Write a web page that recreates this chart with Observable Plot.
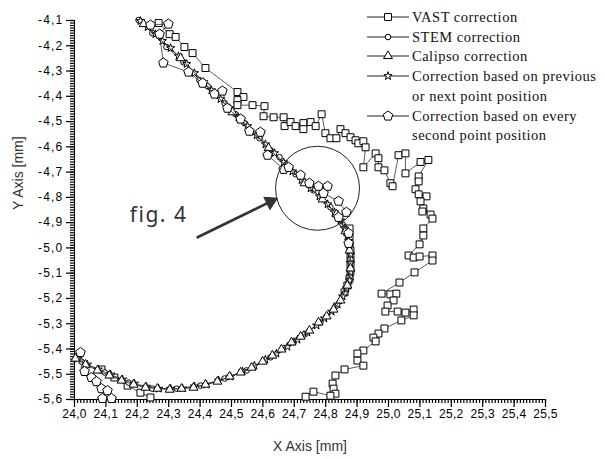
<!DOCTYPE html>
<html>
<head>
<meta charset="utf-8">
<script src="https://cdn.jsdelivr.net/npm/d3@7"></script>
<script src="https://cdn.jsdelivr.net/npm/@observablehq/plot@0.6"></script>
<style>
  body { margin: 0; background: white; }
  #wrap { position: relative; width: 605px; height: 459px; }
  #legend { position: absolute; left: 366px; top: 0; font-family: "Liberation Serif", "Times New Roman", serif; font-size: 14.5px; letter-spacing: 0.5px; color: #111; }
  #legend .row { position: absolute; left: 0; height: 20px; line-height: 20px; white-space: nowrap; }
  #legend svg { position: absolute; left: 0; top: 0; }
  #legend span { position: absolute; left: 46px; top: 0; }
</style>
</head>
<body>
<div id="wrap"><div id="legend"></div></div>
<script>
// ---------- data (mm) ----------
const xTicks = [24.0, 24.1, 24.2, 24.3, 24.4, 24.5, 24.6, 24.7, 24.8, 24.9, 25.0, 25.1, 25.2, 25.3, 25.4, 25.5];
const yTicks = [-5.6, -5.5, -5.4, -5.3, -5.2, -5.1, -5.0, -4.9, -4.8, -4.7, -4.6, -4.5, -4.4, -4.3, -4.2, -4.1];

// VAST correction (squares)
const vastMain = [
  [24.268,-4.110],[24.303,-4.154],[24.322,-4.165],[24.350,-4.205],[24.376,-4.229],[24.417,-4.288],
  [24.519,-4.383],[24.538,-4.403],[24.519,-4.415],[24.519,-4.435],[24.567,-4.435],[24.605,-4.439],
  [24.602,-4.479],[24.634,-4.483],[24.666,-4.483],[24.669,-4.518],[24.688,-4.502],[24.704,-4.518],
  [24.729,-4.506],[24.729,-4.530],[24.752,-4.502],[24.768,-4.518],[24.787,-4.471],[24.799,-4.546],
  [24.815,-4.566],[24.834,-4.566],[24.847,-4.530],[24.863,-4.546],[24.879,-4.562],[24.895,-4.574],
  [24.904,-4.586],[24.920,-4.578],[24.927,-4.602],[24.920,-4.681],[24.959,-4.626],[24.968,-4.645],
  [24.968,-4.681],[24.987,-4.693],[25.006,-4.744],[25.013,-4.756],[25.032,-4.633],[25.054,-4.626],
  [25.054,-4.705],[25.102,-4.660],[25.127,-4.652],[25.096,-4.717],[25.096,-4.737],[25.086,-4.768],
  [25.096,-4.788],[25.121,-4.796],[25.102,-4.816],[25.111,-4.844],[25.108,-4.856],[25.134,-4.868],
  [25.140,-4.884],[25.111,-4.923],[25.111,-4.951],[25.099,-4.986],[25.064,-5.030],[25.080,-5.038],
  [25.099,-5.034],[25.140,-5.030],[25.140,-5.050],[25.083,-5.097],[25.035,-5.137],[24.978,-5.181],
  [25.006,-5.184],[25.025,-5.181],[25.016,-5.208],[24.997,-5.228],[24.990,-5.252],[25.029,-5.252],
  [25.054,-5.256],[25.080,-5.244],[25.080,-5.267],[25.041,-5.287],[24.987,-5.319],[24.968,-5.339],
  [24.952,-5.355],[24.959,-5.370],[24.920,-5.406],[24.901,-5.418],[24.901,-5.446],[24.920,-5.466],
  [24.860,-5.481],[24.831,-5.505],[24.822,-5.537],[24.825,-5.557],[24.831,-5.577],[24.815,-5.585],
  [24.761,-5.569],[24.736,-5.589]
];
const vastInner = [
  [24.876,-4.923],[24.876,-4.954],[24.876,-4.982],[24.879,-5.010],[24.879,-5.038],[24.879,-5.065],
  [24.879,-5.093],[24.876,-5.121],[24.869,-5.149],[24.860,-5.176]
];
const vastLowerLeft = [
  [24.086,-5.481],[24.127,-5.513],[24.169,-5.545],[24.210,-5.573],[24.242,-5.592]
];

// STEM correction (circles)
const stem = [
  [24.204,-4.098],[24.248,-4.150],[24.293,-4.205],[24.347,-4.265],[24.398,-4.336],[24.424,-4.360],
  [24.478,-4.427],[24.513,-4.471],[24.541,-4.506],[24.589,-4.566],[24.624,-4.613],[24.653,-4.641],
  [24.704,-4.708],[24.761,-4.772],[24.815,-4.839],[24.854,-4.907],[24.873,-4.978],[24.879,-5.045],
  [24.876,-5.113],[24.860,-5.180],[24.831,-5.232],[24.783,-5.295],[24.733,-5.342],[24.698,-5.374],
  [24.624,-5.433],[24.548,-5.485],[24.478,-5.517],[24.401,-5.545],[24.325,-5.557],[24.248,-5.557],
  [24.172,-5.533],[24.096,-5.493],[24.022,-5.450]
];

// Calipso correction (triangles)
const calipso = [
  [24.220,-4.114],[24.338,-4.249],[24.503,-4.463],[24.618,-4.605],[24.675,-4.677],[24.733,-4.744],
  [24.790,-4.808],[24.834,-4.867],[24.863,-4.934],[24.876,-5.010],[24.879,-5.081],[24.869,-5.149],
  [24.847,-5.208],[24.825,-5.244],[24.803,-5.271],[24.777,-5.295],[24.748,-5.327],[24.720,-5.351],
  [24.691,-5.374],[24.659,-5.402],[24.630,-5.426],[24.599,-5.450],[24.564,-5.474],[24.529,-5.493],
  [24.494,-5.509],[24.455,-5.529],[24.417,-5.541],[24.379,-5.553],[24.341,-5.557],[24.303,-5.561],
  [24.264,-5.557],[24.226,-5.553],[24.188,-5.541],[24.150,-5.525],[24.111,-5.505],[24.073,-5.485],
  [24.035,-5.462],[24.003,-5.438]
];

// Correction based on previous or next point position (stars)
const prevNext = [
  [24.210,-4.102],[24.233,-4.126],[24.258,-4.154],[24.280,-4.181],[24.306,-4.209],[24.331,-4.241],
  [24.357,-4.272],[24.382,-4.308],[24.411,-4.344],[24.436,-4.376],[24.465,-4.411],[24.494,-4.447],
  [24.522,-4.483],[24.551,-4.518],[24.580,-4.554],[24.608,-4.590],[24.637,-4.625],[24.666,-4.661],
  [24.694,-4.697],[24.723,-4.732],[24.752,-4.764],[24.780,-4.796],[24.806,-4.827],[24.828,-4.859],
  [24.847,-4.891],[24.860,-4.923],[24.869,-4.954],[24.876,-4.990],[24.879,-5.026],[24.879,-5.061],
  [24.879,-5.097],[24.876,-5.129],[24.866,-5.160],[24.854,-5.192],[24.838,-5.224],[24.819,-5.252],
  [24.796,-5.279],[24.771,-5.307],[24.742,-5.335],[24.710,-5.363],[24.678,-5.391],[24.643,-5.418],
  [24.608,-5.442],[24.573,-5.466],[24.535,-5.489],[24.497,-5.509],[24.459,-5.525],[24.420,-5.541],
  [24.382,-5.548],[24.344,-5.556],[24.306,-5.557],[24.268,-5.557],[24.229,-5.549],[24.191,-5.537],
  [24.153,-5.521],[24.115,-5.501],[24.076,-5.481],[24.041,-5.462],[24.010,-5.438]
];

// Correction based on every second point position (pentagons)
const everySecondTop = [
  [24.242,-4.118],[24.299,-4.114],[24.271,-4.154],[24.283,-4.268],[24.363,-4.304],[24.408,-4.348],
  [24.446,-4.391],[24.471,-4.379],[24.487,-4.447],[24.529,-4.490],[24.557,-4.538],[24.592,-4.542],
  [24.615,-4.633],[24.666,-4.689],[24.682,-4.681],[24.720,-4.712],[24.748,-4.744],[24.777,-4.756],
  [24.806,-4.756],[24.793,-4.784],[24.841,-4.815],[24.866,-4.859],[24.841,-4.879],[24.873,-4.942],
  [24.873,-4.982]
];
const everySecondBottom = [
  [24.019,-5.414],[24.032,-5.489],[24.054,-5.513],[24.070,-5.529],[24.086,-5.557],[24.105,-5.565],
  [24.089,-5.596],[24.118,-5.596]
];

// annotation ("fig. 4" circle and arrow)
const zoomCircle = [[24.774, -4.764]];
const arrowShaft = [[24.392, -4.958], [24.624, -4.817]];
const arrowHead = [[24.624, -4.817]];
const figLabel = [[24.176, -4.870, "fig. 4"]];

const legendEntries = [
  {sym: "square", lines: ["VAST correction"]},
  {sym: "circle", lines: ["STEM correction"]},
  {sym: "triangle", lines: ["Calipso correction"]},
  {sym: "star", lines: ["Correction based on previous", "or next point position"]},
  {sym: "pentagon", lines: ["Correction based on every", "second point position"]}
];

// ---------- build ----------
const pentagon = {
  draw(context, size) {
    const R = Math.sqrt(size / Math.PI) * 1.2;
    for (let i = 0; i < 5; ++i) {
      const a = -Math.PI / 2 + i * 2 * Math.PI / 5;
      const px = R * Math.cos(a), py = R * Math.sin(a);
      if (i === 0) context.moveTo(px, py); else context.lineTo(px, py);
    }
    context.closePath();
  }
};
const symbols = {square: "square", circle: "circle", triangle: "triangle", star: "star", pentagon};
const d3symbols = {square: d3.symbolSquare, circle: d3.symbolCircle, triangle: d3.symbolTriangle, star: d3.symbolStar, pentagon};
const radius = {square: 3.9, circle: 2.8, triangle: 3.3, star: 2.6, pentagon: 4.2};

const toRows = (arr, seg) => arr.map(([x, y]) => ({x, y, seg}));
const vastData = [...toRows(vastMain, "a"), ...toRows(vastInner, "b"), ...toRows(vastLowerLeft, "c")];
const stemData = toRows(stem, "a");
const calipsoData = toRows(calipso, "a");
const starData = toRows(prevNext, "a");
const pentData = [...toRows(everySecondTop, "a"), ...toRows(everySecondBottom, "b")];

const fmt = d => d.toFixed(1).replace(".", ",");
const xMinor = d3.range(0, 151).map(i => 24 + i / 100);
const yMinor = d3.range(0, 151).map(i => -5.6 + i / 100);
const sans = "'Liberation Sans', Arial, sans-serif";

function series(data, sym) {
  return [
    Plot.line(data, {x: "x", y: "y", z: "seg", stroke: "#333", strokeWidth: 0.8}),
    Plot.dot(data, {x: "x", y: "y", symbol: symbols[sym], r: radius[sym], fill: "white", stroke: "black", strokeWidth: 1})
  ];
}

const chart = Plot.plot({
  width: 605, height: 459,
  marginLeft: 74, marginRight: 60, marginTop: 20, marginBottom: 60,
  x: {domain: [24, 25.5]},
  y: {domain: [-5.6, -4.1]},
  marks: [
    // minor (0.01) and major (0.1) tick marks outside the frame
    Plot.axisY(yMinor, {tickSize: 4, tickFormat: () => "", label: null, stroke: "black", strokeWidth: 1.2}),
    Plot.axisY(yTicks, {tickSize: 8, tickPadding: 3, tickFormat: fmt, label: null, stroke: "black", strokeWidth: 1.2, fontSize: 12, fontFamily: sans}),
    Plot.axisX(xMinor, {tickSize: 4, tickFormat: () => "", label: null, stroke: "black", strokeWidth: 1.2}),
    Plot.axisX(xTicks, {tickSize: 8, tickPadding: 2, tickFormat: fmt, label: null, stroke: "black", strokeWidth: 1.2, fontSize: 12, fontFamily: sans}),
    Plot.ruleX([24], {stroke: "black"}),
    Plot.ruleY([-5.6], {stroke: "black"}),
    Plot.text(["Y Axis [mm]"], {frameAnchor: "left", dx: -56, rotate: -90, fontSize: 14, fontFamily: sans, fill: "#333"}),
    Plot.text(["X Axis [mm]"], {frameAnchor: "bottom", lineAnchor: "middle", dy: 47, fontSize: 14, fontFamily: sans, fill: "#333"}),
    ...series(vastData, "square"),
    ...series(stemData, "circle"),
    ...series(starData, "star"),
    ...series(calipsoData, "triangle"),
    ...series(pentData, "pentagon"),
    Plot.dot(zoomCircle, {x: d => d[0], y: d => d[1], r: 42, fill: "none", stroke: "#222", strokeWidth: 1}),
    Plot.line(arrowShaft, {x: d => d[0], y: d => d[1], stroke: "#333", strokeWidth: 2.6}),
    Plot.dot(arrowHead, {x: d => d[0], y: d => d[1], symbol: "triangle", r: 5, rotate: 64, fill: "#333", stroke: "#333", strokeWidth: 1}),
    Plot.text(figLabel, {x: d => d[0], y: d => d[1], text: d => d[2], textAnchor: "start", fontSize: 21, fontFamily: "'Noto Sans', sans-serif", fill: "#333"})
  ]
});
const wrap = document.getElementById("wrap");
wrap.insertBefore(chart, wrap.firstChild);

d3.select(chart).selectAll("g[aria-label='y-axis tick label'] text").attr("letter-spacing", "1.2px");
d3.select(chart).selectAll("g[aria-label='x-axis tick label'] text").attr("letter-spacing", "0.3px");
d3.select(chart).selectAll("text").filter(function() { return this.textContent === "fig. 4"; }).attr("letter-spacing", "1.5px");

// legend
const legend = document.getElementById("legend");
let row = 0;
for (const e of legendEntries) {
  e.lines.forEach((txt, i) => {
    const cy = 17 + 19.7 * row;
    const div = document.createElement("div");
    div.className = "row";
    div.style.top = (cy - 10) + "px";
    if (i === 0) {
      const r = radius[e.sym];
      const path = d3.symbol(d3symbols[e.sym], Math.PI * r * r)();
      div.innerHTML = `<svg width="44" height="20"><line x1="1" x2="43" y1="10" y2="10" stroke="#222" stroke-width="1"/><path d="${path}" transform="translate(22,10)" fill="white" stroke="black" stroke-width="1"/></svg>`;
    }
    const span = document.createElement("span");
    span.textContent = txt;
    div.appendChild(span);
    legend.appendChild(div);
    row++;
  });
}
</script>
</body>
</html>
